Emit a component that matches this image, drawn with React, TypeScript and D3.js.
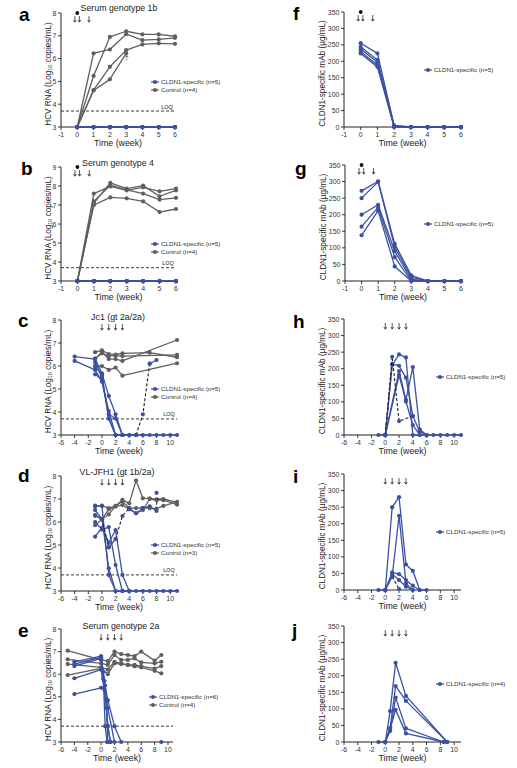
import React from 'react';
import * as d3 from 'd3';

type Pt = [number, number];

const BLUE = '#3b50a3';
const GRAY = '#5f5f5f';
const DARK = '#1e1e1e';
const FONT = '"Liberation Sans Narrow", "Arial Narrow", "Liberation Sans", Arial, sans-serif';

// ---------------- data ----------------
// a: Serum genotype 1b (HCV RNA, log10)
const aControl: Pt[][] = [
  [[0, 3], [1, 6.23], [2, 6.4], [3, 7.07], [4, 6.81], [5, 6.84], [6, 6.91]],
  [[0, 3], [1, 5.24], [2, 6.95], [3, 7.2], [4, 7.06], [5, 7.06], [6, 6.98]],
  [[0, 3], [1, 4.62], [2, 5.64], [3, 6.37], [4, 6.62], [5, 6.67], [6, 6.65]],
  [[0, 3], [1, 4.6], [2, 5.09], [3, 6.23]],
];
const aCldn: Pt[] = [[0, 3], [1, 3], [2, 3], [3, 3], [4, 3], [5, 3], [6, 3]];

// b: Serum genotype 4
const bControl: Pt[][] = [
  [[0, 3], [1, 7.6], [2, 7.98], [3, 7.77], [4, 7.93], [5, 7.72], [6, 7.86]],
  [[0, 3], [1, 7.1], [2, 8.16], [3, 7.86], [4, 8.02], [5, 7.46], [6, 7.77]],
  [[0, 3], [1, 7.19], [2, 8.04], [3, 7.8], [4, 7.6], [5, 7.28], [6, 7.38]],
  [[0, 3], [1, 7.0], [2, 7.4], [3, 7.35], [4, 7.19], [5, 6.63], [6, 6.79]],
];
const bCldn: Pt[] = [[0, 3], [1, 3], [2, 3], [3, 3], [4, 3], [5, 3], [6, 3]];

// c: Jc1 (gt 2a/2a)
const cControl: Pt[][] = [
  [[-1, 6.6], [0, 6.68], [1, 6.52], [2, 6.5], [3, 6.55], [7, 6.58], [11, 6.38]],
  [[-1, 6.33], [0, 6.55], [1, 6.43], [2, 6.45], [3, 6.43], [11, 6.48]],
  [[-1, 6.3], [0, 6.62], [1, 6.3], [2, 6.3], [3, 6.22], [11, 7.13]],
  [[-1, 5.98], [0, 6.0], [1, 5.83], [2, 5.93], [3, 5.58], [11, 6.12]],
];
const cCldn: Pt[][] = [
  [[-4, 6.41], [-1, 6.3], [0, 5.68], [1, 4.7], [2, 3.9], [3, 3], [4, 3], [5, 3], [6, 3], [7, 3], [8, 3], [9, 3], [10, 3], [11, 3]],
  [[-4, 6.22], [-1, 5.83], [0, 5.32], [1, 4.04], [2, 3], [3, 3]],
  [[-1, 6.16], [0, 5.5], [1, 3.72], [2, 3], [3, 3]],
  [[-1, 5.64], [0, 5.4], [1, 3.9], [2, 3.72], [3, 3]],
  [[-1, 6.0], [0, 5.6], [1, 3.72], [2, 3], [3, 3], [4, 3], [5, 3]],
];
const cRebound: Pt[] = [[5, 3], [6, 3.9], [7, 6.1]];
const cLate: Pt[] = [[7, 6.1], [8, 6.26]];

// d: VL-JFH1 (gt 1b/2a)
const dControl: Pt[][] = [
  [[-1, 6.67], [0, 6.71], [1, 6.6], [2, 6.7], [3, 6.96], [4, 6.81], [5, 7.8], [6, 7.03], [7, 7.03], [8, 6.99], [9, 7.0], [11, 6.85]],
  [[-1, 6.27], [0, 6.12], [1, 6.55], [2, 6.67], [3, 6.74], [4, 6.55], [5, 6.38], [6, 6.52], [7, 7.0], [8, 6.95], [9, 6.95], [11, 6.75]],
  [[-1, 5.86], [0, 6.12], [1, 6.33], [2, 6.7], [3, 6.9], [4, 6.6], [5, 6.6], [6, 6.62], [7, 6.6], [8, 6.58], [9, 6.7], [11, 6.88]],
];
const dCldn: Pt[][] = [
  [[-1, 6.71], [0, 6.7], [1, 3.7], [2, 3], [3, 3], [4, 3], [5, 3], [6, 3], [7, 3], [8, 3], [9, 3], [10, 3], [11, 3]],
  [[-1, 6.52], [0, 6.13], [1, 3.99], [2, 3], [3, 3]],
  [[-1, 6.0], [0, 5.67], [1, 5.78], [2, 4.13], [3, 3], [4, 3]],
  [[-1, 5.36], [0, 5.75], [1, 5.1], [2, 5.65], [3, 3.7], [4, 3]],
  [[-1, 6.3], [0, 6.13]],
];
const dDashA: Pt[] = [[0, 6.13], [1, 4.9]];
const dMid: Pt[] = [[1, 4.9], [2, 5.26]];
const dDashB: Pt[] = [[2, 5.26], [3, 6.26], [4, 6.6]];
const dLate: Pt[] = [[4, 6.6], [5, 6.38], [6, 6.6], [7, 6.68], [8, 6.48]];
const dExtraDash: Pt[] = [[8, 6.75], [8.2, 7.05]];
const dExtra: Pt[] = [[8, 7.27]];

// e: Serum genotype 2a
const eControl: Pt[][] = [
  [[-5, 7.04], [0, 6.63], [1, 6.58], [2, 7.0], [3, 6.89], [4, 6.85], [5, 6.8], [6, 7.0], [8, 6.6], [9, 6.85]],
  [[-5, 6.66], [0, 6.48], [1, 6.41], [2, 6.85], [3, 6.63], [4, 6.63], [5, 6.7], [6, 6.52], [8, 6.48], [9, 6.55]],
  [[-5, 6.45], [0, 6.3], [1, 6.2], [2, 6.55], [3, 6.48], [4, 6.41], [5, 6.41], [6, 6.36], [8, 6.25], [9, 6.36]],
  [[-5, 5.96], [0, 6.26], [1, 6.0], [2, 6.48], [3, 6.45], [4, 6.41], [5, 6.35], [6, 6.3], [8, 6.15], [9, 6.04]],
];
const eCldn: Pt[][] = [
  [[-4, 6.55], [0, 6.8], [0.3, 6.1], [0.6, 3.7], [0.9, 3]],
  [[-4, 6.45], [0, 6.75], [0.5, 5.7], [1, 3.7], [1.4, 3]],
  [[-4, 6.36], [0, 6.7], [0.6, 5.5], [1, 4.85], [2, 3.7], [3, 3]],
  [[-4, 5.82], [0, 6.2], [0.7, 4.9], [1, 3.7], [1.4, 3]],
  [[-4, 5.12], [0, 5.4], [0.5, 5.3], [0.8, 4.5], [1, 3]],
  [[0, 6.66], [0.3, 5.8], [1, 4.5], [2, 3]],
];
const eLate: Pt[] = [[9, 3]];

// f: mAb, genotype 1b
const fMab: Pt[][] = [
  [[0, 255], [1, 224], [2, 5], [3, 0], [4, 0], [5, 0], [6, 0]],
  [[0, 244], [1, 204], [2, 3], [3, 0], [4, 0], [5, 0], [6, 0]],
  [[0, 237], [1, 197], [2, 2], [3, 0], [4, 0], [5, 0], [6, 0]],
  [[0, 229], [1, 189], [2, 1], [3, 0], [4, 0], [5, 0], [6, 0]],
  [[0, 224], [1, 183], [2, 0], [3, 0], [4, 0], [5, 0], [6, 0]],
];

// g: mAb, genotype 4
const gMab: Pt[][] = [
  [[0, 272], [1, 301], [2, 112], [3, 17], [4, 0], [5, 0], [6, 0]],
  [[0, 250], [1, 299], [2, 102], [3, 11], [4, 0], [5, 0], [6, 0]],
  [[0, 200], [1, 230], [2, 90], [3, 5], [4, 0], [5, 0], [6, 0]],
  [[0, 164], [1, 222], [2, 72], [3, 0], [4, 0], [5, 0], [6, 0]],
  [[0, 138], [1, 212], [2, 44], [3, 0], [4, 0], [5, 0], [6, 0]],
];

// h: mAb, Jc1
const hMab: Pt[][] = [
  [[-1, 0], [0, 0], [1, 211], [2, 243], [3, 234], [4, 0], [5, 0], [6, 0], [7, 0], [8, 0], [9, 0], [10, 0], [11, 0]],
  [[0, 0], [2, 193], [3, 106], [4, 205], [5, 17], [6, 0]],
  [[0, 0], [1, 214], [2, 209], [3, 173], [4, 57], [5, 10], [6, 0]],
  [[0, 0], [2, 181], [3, 101], [4, 30], [5, 0]],
];
const hDashed: Pt[] = [[0, 0], [1, 236], [2, 42], [4, 57]];

// i: mAb, VL-JFH1
const iMab: Pt[][] = [
  [[-1, 0], [0, 0], [1, 250], [2, 280], [3, 77], [4, 58], [5, 0], [6, 0]],
  [[0, 0], [1, 40], [2, 224], [3, 20], [4, 0]],
  [[0, 0], [1, 53], [2, 48], [3, 30], [4, 13], [5, 0]],
  [[0, 0], [1, 48], [2, 30], [3, 10], [4, 0]],
];
const iDashed: Pt[] = [[1, 40], [2, 3]];

// j: mAb, genotype 2a
const jMab: Pt[][] = [
  [[-1, 0], [0, 0], [0.7, 93], [1.5, 239], [3, 139], [9, 0]],
  [[0, 0], [0.7, 43], [1.5, 169], [3, 124], [9, 0]],
  [[0, 0], [0.7, 33], [1.5, 134], [3, 41], [8.5, 0]],
  [[0, 0], [0.7, 40], [1.5, 97], [3, 26], [8.5, 0]],
];

const shortWeeks = [-1, 0, 1, 2, 3, 4, 5, 6];
const longWeeks = [-6, -4, -2, 0, 2, 4, 6, 8, 10];
const hcvTicks8 = [3, 4, 5, 6, 7, 8];
const hcvTicks9 = [3, 4, 5, 6, 7, 8, 9];
const mabTicks = [0, 50, 100, 150, 200, 250, 300, 350];
const twoDoseArrows = [-0.15, 0.13, 0.72];
const fourDoseArrows = [0, 1, 2, 3];

// ---------------- layout ----------------
interface Series { pts: Pt[]; stroke: string | null; dash?: boolean; marker: string | null }
interface LegendItem { label: string; color: string }
interface PanelCfg {
  letter: string; lx: number; ly: number;
  title?: string; tx?: number; ty?: number;
  x0: number; x1: number; yTop: number; yBot: number;
  xDomain: [number, number]; yDomain: [number, number];
  xTicks: number[]; yTicks: number[];
  yLabel: 'hcv' | 'mab';
  series: Series[];
  arrows: number[]; arrowY: number; star?: boolean;
  legend: LegendItem[]; legX: number; legY: number;
  loq?: boolean; loqLabel?: boolean; dagger?: Pt;
}

const S = (pts: Pt[], color: string): Series => ({ pts, stroke: color, marker: color });
const D = (pts: Pt[], marker: string | null): Series => ({ pts, stroke: DARK, dash: true, marker });
const M = (pts: Pt[], color: string): Series => ({ pts, stroke: null, marker: color });

const hcvLegend = (n1: number, n2: number): LegendItem[] => [
  { label: `CLDN1-specific (n=${n1})`, color: BLUE },
  { label: `Control (n=${n2})`, color: GRAY },
];

const panels: PanelCfg[] = [
  {
    letter: 'a', lx: 19, ly: 21, title: 'Serum genotype 1b', tx: 119, ty: 11,
    x0: 61, x1: 175, yTop: 13, yBot: 127, xDomain: [-1, 6], yDomain: [3, 8],
    xTicks: shortWeeks, yTicks: hcvTicks8, yLabel: 'hcv',
    series: [...aControl.map(p => S(p, GRAY)), ...[0, 1, 2, 3, 4].map(() => S(aCldn, BLUE))],
    arrows: twoDoseArrows, arrowY: 19, star: true,
    legend: hcvLegend(5, 4), legX: 155, legY: 82, loq: true, loqLabel: true, dagger: [3, 6.05],
  },
  {
    letter: 'b', lx: 21, ly: 175, title: 'Serum genotype 4', tx: 118, ty: 166,
    x0: 61, x1: 176, yTop: 167, yBot: 281, xDomain: [-1, 6], yDomain: [3, 9],
    xTicks: shortWeeks, yTicks: hcvTicks9, yLabel: 'hcv',
    series: [...bControl.map(p => S(p, GRAY)), ...[0, 1, 2, 3, 4].map(() => S(bCldn, BLUE))],
    arrows: twoDoseArrows, arrowY: 173, star: true,
    legend: hcvLegend(5, 4), legX: 155, legY: 244, loq: true, loqLabel: true,
  },
  {
    letter: 'c', lx: 18, ly: 327, title: 'Jc1 (gt 2a/2a)', tx: 118, ty: 320,
    x0: 61, x1: 177, yTop: 320, yBot: 435, xDomain: [-6, 11], yDomain: [3, 8],
    xTicks: longWeeks, yTicks: hcvTicks8, yLabel: 'hcv',
    series: [...cControl.map(p => S(p, GRAY)), ...cCldn.map(p => S(p, BLUE)), D(cRebound, BLUE), S(cLate, BLUE)],
    arrows: fourDoseArrows, arrowY: 327,
    legend: hcvLegend(5, 4), legX: 155, legY: 389, loq: true, loqLabel: true,
  },
  {
    letter: 'd', lx: 18, ly: 482, title: 'VL-JFH1 (gt 1b/2a)', tx: 117, ty: 475,
    x0: 61, x1: 177, yTop: 476, yBot: 591, xDomain: [-6, 11], yDomain: [3, 8],
    xTicks: longWeeks, yTicks: hcvTicks8, yLabel: 'hcv',
    series: [...dControl.map(p => S(p, GRAY)), ...dCldn.map(p => S(p, BLUE)), D(dDashA, BLUE), S(dMid, BLUE), D(dDashB, BLUE), S(dLate, BLUE), D(dExtraDash, null), M(dExtra, BLUE)],
    arrows: fourDoseArrows, arrowY: 482,
    legend: hcvLegend(5, 3), legX: 155, legY: 545, loq: true, loqLabel: true,
  },
  {
    letter: 'e', lx: 18, ly: 637, title: 'Serum genotype 2a', tx: 121, ty: 629,
    x0: 61, x1: 173, yTop: 629, yBot: 742, xDomain: [-6, 10.75], yDomain: [3, 8],
    xTicks: longWeeks, yTicks: hcvTicks8, yLabel: 'hcv',
    series: [...eControl.map(p => S(p, GRAY)), ...eCldn.map(p => S(p, BLUE)), M(eLate, BLUE)],
    arrows: fourDoseArrows, arrowY: 637,
    legend: hcvLegend(6, 4), legX: 153, legY: 697, loq: true,
  },
  {
    letter: 'f', lx: 293, ly: 20,
    x0: 344, x1: 461, yTop: 12, yBot: 127, xDomain: [-1, 6], yDomain: [0, 350],
    xTicks: shortWeeks, yTicks: mabTicks, yLabel: 'mab',
    series: fMab.map(p => S(p, BLUE)),
    arrows: twoDoseArrows, arrowY: 18, star: true,
    legend: [{ label: 'CLDN1-specific (n=5)', color: BLUE }], legX: 428, legY: 70,
  },
  {
    letter: 'g', lx: 295, ly: 175,
    x0: 345, x1: 461, yTop: 165, yBot: 281, xDomain: [-1, 6], yDomain: [0, 350],
    xTicks: shortWeeks, yTicks: mabTicks, yLabel: 'mab',
    series: gMab.map(p => S(p, BLUE)),
    arrows: twoDoseArrows, arrowY: 171, star: true,
    legend: [{ label: 'CLDN1-specific (n=5)', color: BLUE }], legX: 428, legY: 224,
  },
  {
    letter: 'h', lx: 293, ly: 328,
    x0: 344, x1: 461, yTop: 319, yBot: 435, xDomain: [-6, 11], yDomain: [0, 350],
    xTicks: longWeeks, yTicks: mabTicks, yLabel: 'mab',
    series: [...hMab.map(p => S(p, BLUE)), D(hDashed, BLUE)],
    arrows: fourDoseArrows, arrowY: 326,
    legend: [{ label: 'CLDN1-specific (n=5)', color: BLUE }], legX: 440, legY: 377,
  },
  {
    letter: 'i', lx: 293, ly: 483,
    x0: 344, x1: 461, yTop: 474, yBot: 590, xDomain: [-6, 11], yDomain: [0, 350],
    xTicks: longWeeks, yTicks: mabTicks, yLabel: 'mab',
    series: [...iMab.map(p => S(p, BLUE)), D(iDashed, BLUE)],
    arrows: fourDoseArrows, arrowY: 481,
    legend: [{ label: 'CLDN1-specific (n=5)', color: BLUE }], legX: 440, legY: 532,
  },
  {
    letter: 'j', lx: 292, ly: 637,
    x0: 344, x1: 461, yTop: 626, yBot: 742, xDomain: [-6, 11], yDomain: [0, 350],
    xTicks: longWeeks, yTicks: mabTicks, yLabel: 'mab',
    series: jMab.map(p => S(p, BLUE)),
    arrows: fourDoseArrows, arrowY: 633,
    legend: [{ label: 'CLDN1-specific (n=4)', color: BLUE }], legX: 440, legY: 684,
  },
];

function Panel({ c }: { c: PanelCfg }) {
  const x = d3.scaleLinear().domain(c.xDomain).range([c.x0, c.x1]);
  const y = d3.scaleLinear().domain(c.yDomain).range([c.yBot, c.yTop]);
  const line = d3.line<Pt>().x(d => x(d[0])).y(d => y(d[1]));
  const midX = (c.x0 + c.x1) / 2;
  const midY = (c.yTop + c.yBot) / 2 + 4;
  const labelX = c.yLabel === 'hcv' ? c.x0 - 10.5 : c.x0 - 19.5;
  const loqY = y(3.7);
  return (
    <g>
      <text x={c.lx} y={c.ly} fontFamily='"Liberation Sans", Arial, sans-serif' fontWeight="bold" fontSize={19} fill="#000">{c.letter}</text>
      {c.title && (
        <text x={c.tx} y={c.ty} textAnchor="middle" fontFamily={FONT} fontSize={8.8} fill="#222">{c.title}</text>
      )}
      {c.star && (
        <circle cx={x(0)} cy={c.arrowY - 6} r={1.9} fill="#111" />
      )}
      {c.arrows.map((w, i) => {
        const ax = x(w);
        const ay = c.arrowY;
        return (
          <path key={i} d={`M${ax},${ay - 3}V${ay + 3}M${ax - 1.4},${ay + 1}L${ax},${ay + 3.2}L${ax + 1.4},${ay + 1}`}
            stroke="#222" strokeWidth={0.75} fill="none" />
        );
      })}
      {c.loq && (
        <line x1={c.x0} x2={c.x1} y1={loqY} y2={loqY} stroke="#222" strokeWidth={0.9} strokeDasharray="3,2" />
      )}
      {c.loqLabel && (
        <text x={c.x1 - 8} y={loqY - 2.5} textAnchor="middle" fontFamily={FONT} fontSize={5.5} fill="#222">LOQ</text>
      )}
      {/* axes */}
      <line x1={c.x0} x2={c.x0} y1={c.yTop} y2={c.yBot} stroke="#222" strokeWidth={1} />
      <line x1={c.x0} x2={c.x1} y1={c.yBot} y2={c.yBot} stroke="#222" strokeWidth={1} />
      {c.yTicks.map(t => (
        <g key={'y' + t}>
          <line x1={c.x0 - 3} x2={c.x0} y1={y(t)} y2={y(t)} stroke="#222" strokeWidth={0.9} />
          <text x={c.x0 - 4.5} y={y(t) + 2.5} textAnchor="end" fontFamily={FONT} fontSize={7} fill="#333">{t}</text>
        </g>
      ))}
      {c.xTicks.map(t => (
        <g key={'x' + t}>
          <line x1={x(t)} x2={x(t)} y1={c.yBot} y2={c.yBot + 3} stroke="#222" strokeWidth={0.9} />
          <text x={x(t)} y={c.yBot + 9.5} textAnchor="middle" fontFamily={FONT} fontSize={7} fill="#333">{t}</text>
        </g>
      ))}
      <text x={midX} y={c.yBot + 18.5} textAnchor="middle" fontFamily={FONT} fontSize={8.8} fill="#222">Time (week)</text>
      <text transform={`translate(${labelX},${midY}) rotate(-90)`} textAnchor="middle" fontFamily={FONT} fontSize={8.2} fill="#222">
        {c.yLabel === 'hcv' ? (
          <>HCV RNA (Log<tspan fontSize={5.5} dy={1.8}>10</tspan><tspan dy={-1.8}> copies/mL)</tspan></>
        ) : (
          <>CLDN1-specific mAb (µg/mL)</>
        )}
      </text>
      {/* series */}
      {c.series.map((s, i) => (
        <g key={'s' + i}>
          {s.stroke && s.pts.length > 1 && (
            <path d={line(s.pts) || ''} fill="none" stroke={s.stroke} strokeWidth={s.dash ? 1.1 : 1.3}
              strokeDasharray={s.dash ? '3,2' : undefined} strokeLinejoin="round" />
          )}
          {s.marker && s.pts.map((p, k) => (
            <circle key={k} cx={x(p[0])} cy={y(p[1])} r={2.1} fill={s.marker as string} />
          ))}
        </g>
      ))}
      {c.dagger && (
        <text x={x(c.dagger[0]) + 0.5} y={y(c.dagger[1]) + 2.5} textAnchor="middle" fontFamily={FONT} fontSize={7} fill="#333">†</text>
      )}
      {/* legend */}
      {c.legend.map((l, i) => {
        const ly = c.legY + i * 8;
        return (
          <g key={'l' + i}>
            <line x1={c.legX - 4} x2={c.legX + 4} y1={ly} y2={ly} stroke={l.color} strokeWidth={1.2} />
            <circle cx={c.legX} cy={ly} r={2.1} fill={l.color} />
            <text x={c.legX + 6} y={ly + 2.1} fontFamily={FONT} fontSize={6.2} fill="#333">{l.label}</text>
          </g>
        );
      })}
    </g>
  );
}

export default function App() {
  return (
    <svg width={517} height={768} viewBox="0 0 517 768"
      style={{ position: 'absolute', left: 0, top: 0, background: '#fff' }}>
      <rect x={0} y={0} width={517} height={768} fill="#fff" />
      {panels.map(p => <Panel key={p.letter} c={p} />)}
    </svg>
  );
}
